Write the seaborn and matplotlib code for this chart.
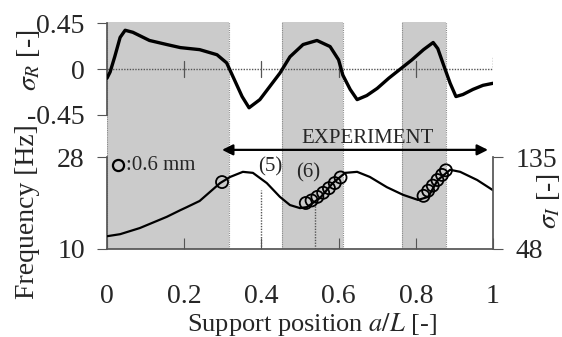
import numpy as np
import pandas as pd
import matplotlib
matplotlib.use('Agg')
import matplotlib.pyplot as plt
import seaborn as sns

# ---------------- data ----------------
x_sigma_r = [0, 0.008, 0.02, 0.034, 0.047, 0.067, 0.11, 0.155, 0.19, 0.24, 0.285, 0.31,
             0.327, 0.35, 0.368, 0.396, 0.42, 0.448, 0.474, 0.508, 0.544, 0.578, 0.6,
             0.611, 0.63, 0.648, 0.673, 0.70, 0.73, 0.76, 0.79, 0.82, 0.845, 0.857,
             0.87, 0.889, 0.904, 0.922, 0.948, 0.974, 1.0]
sigma_r = [-0.09, -0.03, 0.12, 0.31, 0.38, 0.36, 0.28, 0.24, 0.21, 0.19, 0.14, 0.06,
           -0.08, -0.27, -0.38, -0.30, -0.18, -0.04, 0.12, 0.24, 0.28, 0.22, 0.09,
           -0.06, -0.20, -0.30, -0.26, -0.19, -0.09, 0.0, 0.09, 0.19, 0.26, 0.20,
           0.06, -0.14, -0.27, -0.25, -0.20, -0.16, -0.14]

x_freq = [0, 0.034, 0.085, 0.155, 0.19, 0.207, 0.24, 0.293, 0.319, 0.352, 0.378, 0.414,
          0.448, 0.474, 0.5, 0.518, 0.552, 0.585, 0.617, 0.648, 0.681, 0.725, 0.767,
          0.806, 0.832, 0.857, 0.889, 0.915, 0.959, 1.0]
freq = [12.5, 12.9, 14.1, 16.3, 17.6, 18.2, 19.4, 22.9, 24.1, 25.1, 24.9, 22.9,
        20.2, 18.6, 18.0, 18.2, 20.0, 22.9, 24.9, 25.1, 24.1, 22.1, 20.6,
        19.6, 20.2, 23.5, 25.5, 25.1, 23.5, 21.5]

exp_x = [0.298, 0.515, 0.53, 0.545, 0.56, 0.575, 0.59, 0.605,
         0.82, 0.832, 0.844, 0.856, 0.868, 0.878]
exp_f = [23.1, 19.0, 19.5, 20.2, 21.0, 21.9, 22.9, 24.0,
         20.4, 21.4, 22.4, 23.5, 24.5, 25.4]

bands = [(0.0, 0.316), (0.453, 0.611), (0.764, 0.878)]
mode_lines = [(0.4, 21.5), (0.54, 19.6)]

x_ticks = [0, 0.2, 0.4, 0.6, 0.8, 1]
x_tick_labels = ['0', '0.2', '0.4', '0.6', '0.8', '1']
sr_ticks = [-0.45, 0, 0.45]
sr_tick_labels = ['-0.45', '0', '0.45']
f_ticks = [10, 28]
si_ticks = [48, 135]

# ---------------- style ----------------
sns.set_theme(style='white')
plt.rcParams['font.family'] = ['Liberation Serif', 'DejaVu Serif']
plt.rcParams['mathtext.fontset'] = 'stix'

W, H = 562, 337
fig = plt.figure(figsize=(W / 100, H / 100), dpi=100)
ax_top = fig.add_axes([107 / W, 1 - 135 / H, 386 / W, 113 / H])
ax_bot = fig.add_axes([107 / W, 1 - 249 / H, 386 / W, 114 / H])
for a in (ax_top, ax_bot):
    a.patch.set_alpha(0)

shade = '#cbcbcb'
edge = '#555555'
dot_kw = dict(color=edge, lw=1.0, ls=(0, (1, 1)))

for a in (ax_top, ax_bot):
    for lo, hi in bands:
        a.axvspan(lo, hi, color=shade, lw=0, zorder=0)
        for xe in (lo, hi):
            a.axvline(xe, color='#8a8a8a', lw=0.8, ls=(0, (1, 1)), zorder=0.5)

# ---- top panel ----
df_r = pd.DataFrame({'x': x_sigma_r, 'sigma_r': sigma_r})
sns.lineplot(data=df_r, x='x', y='sigma_r', ax=ax_top, color='black', lw=2.4,
             sort=False, zorder=3)
ax_top.set_xlim(0, 1)
ax_top.set_ylim(-0.647, 0.461)
ax_top.set_xlabel('')
ax_top.set_ylabel('')
ax_top.set_xticks([])
ax_top.set_yticks(sr_ticks)
ax_top.set_yticklabels(sr_tick_labels)
ax_top.axhline(0, zorder=1, **dot_kw)
for xt in x_ticks[1:-1]:
    ax_top.plot([xt, xt], [-0.08, 0.08], color=edge, lw=0.9, zorder=1)
ax_top.plot([1, 1], [0.02, 0.12], zorder=1, **dot_kw)
for s in ('top', 'right', 'bottom'):
    ax_top.spines[s].set_visible(False)
ax_top.spines['left'].set_bounds(-0.45, 0.45)
ax_top.spines['left'].set_linestyle((0, (1, 1)))
ax_top.spines['left'].set_color(edge)
ax_top.tick_params(axis='y', direction='out', length=7, width=0.8, color=edge,
                   labelsize=20, pad=9, left=True)

# ---- bottom panel ----
df_f = pd.DataFrame({'x': x_freq, 'freq': freq})
sns.lineplot(data=df_f, x='x', y='freq', ax=ax_bot, color='black', lw=1.6,
             sort=False, zorder=3)
df_e = pd.DataFrame({'x': exp_x, 'freq': exp_f})
sns.scatterplot(data=df_e, x='x', y='freq', ax=ax_bot, s=75, marker='o',
                facecolor='none', edgecolor='black', linewidth=1.3, zorder=4)
f_top = 10 + 114 / 5.11
ax_bot.set_xlim(0, 1)
ax_bot.set_ylim(10, f_top)
ax_bot.set_xlabel('')
ax_bot.set_ylabel('')
ax_bot.set_xticks(x_ticks)
ax_bot.set_xticklabels(x_tick_labels)
ax_bot.set_yticks(f_ticks)
ax_bot.tick_params(axis='x', direction='in', length=8, width=0.8, color=edge,
                   labelsize=20, pad=25, bottom=True)
ax_bot.tick_params(axis='y', direction='out', length=7, width=0.8, color=edge,
                   labelsize=20, pad=9, left=True)
for s in ('top', 'right'):
    ax_bot.spines[s].set_visible(False)
ax_bot.spines['left'].set_bounds(10, 28)
for s in ('left', 'bottom'):
    ax_bot.spines[s].set_linestyle((0, (1, 1)))
    ax_bot.spines[s].set_color(edge)
for mx, my in mode_lines:
    ax_bot.plot([mx, mx], [10, my], zorder=1, **dot_kw)

ax_r = ax_bot.twinx()
ax_r.set_ylim(48, 48 + (f_top - 10) * (135 - 48) / (28 - 10))
ax_r.set_yticks(si_ticks)
for s in ('top', 'left', 'bottom'):
    ax_r.spines[s].set_visible(False)
ax_r.spines['right'].set_bounds(48, 135)
ax_r.spines['right'].set_linestyle((0, (1, 1)))
ax_r.spines['right'].set_color(edge)
ax_r.tick_params(axis='y', direction='out', length=7, width=0.8, color=edge,
                 labelsize=20, pad=9, right=True)
ax_r.grid(False)

# annotations
ax_bot.annotate('', xy=(0.987, 29.4), xytext=(0.298, 29.4),
                arrowprops=dict(arrowstyle='<|-|>', color='black', lw=1.6,
                                mutation_scale=16, shrinkA=0, shrinkB=0),
                annotation_clip=False, zorder=5)
ax_bot.text(0.674, 31.6, 'EXPERIMENT', ha='center', va='center', fontsize=15,
            clip_on=False, zorder=5)
ax_bot.text(0.422, 26.0, '(5)', ha='center', va='center', fontsize=15, zorder=5)
ax_bot.text(0.521, 24.9, '(6)', ha='center', va='center', fontsize=15, zorder=5)
ax_bot.plot([0.028], [26.4], marker='o', ms=8, mfc='none', mec='black', mew=1.6,
            zorder=5)
ax_bot.text(0.048, 26.4, ':0.6 mm', ha='left', va='center', fontsize=15, zorder=5)

# axis titles
fig.text(28 / W, 1 - 60 / H, r'$\sigma_R$ [-]', rotation=90, ha='center',
         va='center', fontsize=20)
fig.text(28 / W, 1 - 212 / H, 'Frequency [Hz]', rotation=90, ha='center',
         va='center', fontsize=20)
fig.text(548 / W, 1 - 201 / H, r'$\sigma_I$ [-]', rotation=90, ha='center',
         va='center', fontsize=20)
fig.text(312 / W, 1 - 324 / H, r'Support position $a/L$ [-]', ha='center',
         va='center', fontsize=19)

fig.savefig('out.png', dpi=100)
